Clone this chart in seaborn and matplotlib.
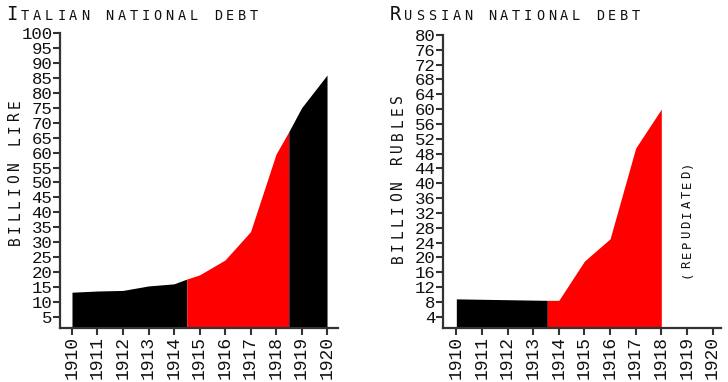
import numpy as np
import pandas as pd
import matplotlib
matplotlib.use("Agg")
import matplotlib.pyplot as plt
import seaborn as sns

# ---------------- data ----------------
it_years = [1910, 1911, 1912, 1913, 1914, 1914.5, 1915, 1916, 1917, 1918, 1918.5, 1919, 1920]
it_debt = [13.2, 13.6, 13.8, 15.3, 16.0, 17.6, 19.0, 24.0, 33.5, 59.5, 67.0, 75.0, 86.0]
it_war = (1914.5, 1918.5)

ru_years = [1910, 1913.55, 1914, 1915, 1916, 1917, 1918]
ru_debt = [8.8, 8.4, 8.4, 19.0, 25.0, 49.5, 60.0]
ru_war = (1913.55, 1918)

tick_years = list(range(1910, 1921))
it_yticks = list(range(5, 101, 5))
ru_yticks = list(range(4, 81, 4))

it_title = "ITALIAN NATIONAL DEBT"
ru_title = "RUSSIAN NATIONAL DEBT"
it_ylabel = "BILLION LIRE"
ru_ylabel = "BILLION RUBLES"
ru_note = "(REPUDIATED)"

RED = "#ff0000"
BLACK = "#000000"
SPINE = "#333333"
TXT = "#111111"
LABEL_FONT = "DejaVu Sans Mono"

sns.set_theme(style="ticks")
plt.rcParams["font.family"] = ["DejaVu Sans", "DejaVu Sans Mono"]

W, H = 728, 382
fig = plt.figure(figsize=(W / 100, H / 100), dpi=100)
fig.patch.set_facecolor("white")
renderer = fig.canvas.get_renderer()


def px_axes(l, t, r, b):
    return fig.add_axes([l / W, 1 - b / H, (r - l) / W, (b - t) / H])


ax1 = px_axes(60, 33.3, 338, 328)
ax2 = px_axes(443, 35, 721, 328)


def draw(ax, years, debt, war, xlim, ylim, yticks):
    df = pd.DataFrame({"year": years, "debt": debt})
    x = df["year"].to_numpy()
    y = df["debt"].to_numpy()
    a, b = war
    pre = x <= a
    mid = (x >= a) & (x <= b)
    post = x >= b
    ax.fill_between(x, y, ylim[0] - 5, where=pre, color=BLACK, lw=0)
    ax.fill_between(x, y, ylim[0] - 5, where=mid, color=RED, lw=0)
    if post.sum() > 1:
        ax.fill_between(x, y, ylim[0] - 5, where=post, color=BLACK, lw=0)
    ax.set_xlim(*xlim)
    ax.set_ylim(*ylim)
    ax.set_xticks(tick_years)
    ax.set_xticklabels([str(t) for t in tick_years], rotation=90,
                       family="Liberation Mono", fontsize=13)
    ax.set_yticks(yticks)
    ax.set_yticklabels([str(t) for t in yticks], family="Liberation Mono", fontsize=12.5)
    ax.tick_params(axis="x", length=5, width=1.5, color=SPINE, pad=0.5, labelcolor=TXT)
    ax.tick_params(axis="y", length=5, width=1.5, color=SPINE, pad=0.5, labelcolor=TXT)
    for s in ["left", "bottom"]:
        ax.spines[s].set_color(SPINE)
        ax.spines[s].set_linewidth(1.6)
    ax.set_facecolor("white")
    ax.grid(False)
    sns.despine(ax=ax)


draw(ax1, it_years, it_debt, it_war, (1909.53, 1920.43), (1.2, 100), it_yticks)
draw(ax2, ru_years, ru_debt, ru_war, (1909.48, 1920.33), (0.94, 80), ru_yticks)


def char_width(ch, size):
    if ch == " ":
        ch = "n"
    t = fig.text(0, 0, ch, fontsize=size, family=LABEL_FONT)
    w = t.get_window_extent(renderer).width
    t.remove()
    return w


def tracked(s, start, end, cross, sizes, vertical=False):
    """Lay out characters of s with uniform extra tracking from start to end (pixels)."""
    widths = [char_width(ch, sz) for ch, sz in zip(s, sizes)]
    total = abs(end - start)
    track = (total - sum(widths)) / (len(s) - 1)
    pos = 0.0
    for ch, sz, w in zip(s, sizes, widths):
        if ch != " ":
            if vertical:
                fig.text(cross / W, 1 - (start - pos) / H, ch, ha="left", va="center",
                         rotation=90, rotation_mode="anchor", fontsize=sz,
                         family=LABEL_FONT, color=TXT)
            else:
                fig.text((start + pos) / W, 1 - cross / H, ch, ha="left", va="baseline",
                         fontsize=sz, family=LABEL_FONT, color=TXT)
        pos += w + track


def sc_sizes(s, big, small):
    return [big] + [small] * (len(s) - 1)


tracked(it_title, 6, 258, 20, sc_sizes(it_title, 13.5, 9.8))
tracked(ru_title, 389.5, 640, 20, sc_sizes(ru_title, 13.5, 9.8))
tracked(it_ylabel, 245, 99, 15, [10.5] * len(it_ylabel), vertical=True)
tracked(ru_ylabel, 263, 94, 398, [10.5] * len(ru_ylabel), vertical=True)
tracked(ru_note, 278, 161, 687, [8.8] * len(ru_note), vertical=True)

fig.savefig("out.png", dpi=100, facecolor="white")
